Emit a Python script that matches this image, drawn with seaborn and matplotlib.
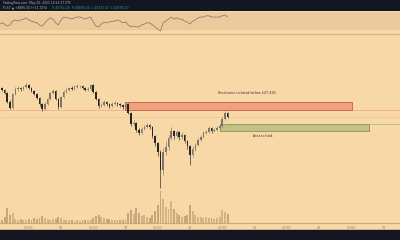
import matplotlib
matplotlib.use("Agg")
import matplotlib.pyplot as plt
import seaborn as sns
import pandas as pd
from matplotlib.patches import Rectangle

# ---------------- data (hourly candles, hours since May 17 00:00 UTC) ----------------
hours = list(range(1, 87))
opens = [45600, 45300, 45000, 44550, 43200, 42300, 44400, 45150, 45300, 45150,
         45450, 45750, 45300, 44850, 44400, 43800, 42900, 42150, 42900, 43650,
         44550, 44850, 43650, 42450, 43950, 44700, 45000, 45300, 45150, 45450,
         45600, 45600, 45300, 45000, 45150, 45750, 44700, 43650, 42600, 42750,
         43200, 42900, 42600, 42900, 43050, 42900, 42750, 42450, 42900, 41550,
         39900, 40050, 39000, 38550, 39150, 39450, 39750, 39450, 38100, 37050,
         35700, 33000, 35700, 36450, 37800, 38850, 38100, 38700, 37950, 38250,
         37350, 36600, 35250, 36150, 36750, 37500, 37950, 38550, 38700, 39300,
         38850, 39000, 39300, 39600, 40650, 41550]
closes = [45300, 45000, 44550, 43200, 42300, 44400, 45150, 45300, 45150, 45450,
          45750, 45300, 44850, 44400, 43800, 42900, 42150, 42900, 43650, 44550,
          44850, 43650, 42450, 43950, 44700, 45000, 45300, 45150, 45450, 45600,
          45600, 45300, 45000, 45150, 45750, 44700, 43650, 42600, 42750, 43200,
          42900, 42600, 42900, 43050, 42900, 42750, 42450, 42900, 41550, 39900,
          40050, 39000, 38550, 39150, 39450, 39750, 39450, 38100, 37050, 35700,
          33000, 35700, 36450, 37800, 38850, 38100, 38700, 37950, 38250, 37350,
          36600, 35250, 36150, 36750, 37500, 37950, 38550, 38700, 39300, 38850,
          39000, 39300, 39600, 40650, 41550, 40950]
highs = [45900, 45450, 45150, 44700, 43500, 44550, 45450, 45600, 45450, 45600,
         46050, 45900, 45450, 45000, 44550, 43950, 43050, 43200, 43800, 44700,
         45150, 45000, 43800, 44100, 45000, 45300, 45450, 45600, 45750, 45900,
         45750, 45750, 45450, 45450, 45900, 45900, 44850, 43800, 43050, 43500,
         43350, 43050, 43200, 43350, 43200, 43050, 42900, 43200, 43050, 41700,
         40500, 40200, 39300, 39450, 39750, 40050, 39900, 39600, 38250, 37200,
         36000, 36300, 37350, 38250, 39450, 39000, 39000, 38850, 38700, 38400,
         37500, 36750, 36600, 37050, 37800, 38250, 38850, 39000, 39600, 39450,
         39300, 39600, 39900, 40950, 41850, 41700]
lows = [45150, 44850, 44400, 43050, 42150, 42150, 44250, 44850, 44850, 45000,
        45300, 45150, 44700, 44250, 43650, 42600, 41850, 42000, 42750, 43500,
        44400, 43500, 42150, 42300, 43800, 44550, 44850, 45000, 45000, 45300,
        45300, 45150, 44850, 44850, 45000, 44550, 43500, 42300, 42450, 42600,
        42600, 42300, 42450, 42750, 42600, 42450, 42150, 42300, 41400, 39600,
        39600, 38700, 38250, 38400, 39000, 39300, 39150, 37800, 36600, 35100,
        30300, 32250, 35250, 36000, 37500, 37650, 37800, 37500, 37650, 37050,
        36150, 33750, 34950, 35850, 36600, 37350, 37800, 38400, 38550, 38550,
        38700, 38850, 39150, 39450, 40500, 40800]
volume = [4, 3, 6, 15, 8, 10, 4, 3, 4, 3,
          3, 4, 3, 5, 4, 5, 7, 5, 4, 3,
          4, 4, 6, 5, 3, 3, 3, 3, 2, 3,
          2, 3, 3, 3, 3, 5, 7, 8, 6, 5,
          4, 4, 3, 3, 3, 3, 3, 4, 10, 13,
          9, 15, 10, 7, 8, 6, 5, 8, 12, 18,
          32, 24, 16, 14, 22, 14, 10, 8, 6, 7,
          8, 18, 12, 8, 6, 6, 5, 6, 5, 5,
          4, 5, 6, 13, 11, 9]
rsi = [42, 45, 42, 37, 40, 49, 52, 49, 52, 54,
       57, 52, 49, 47, 45, 40, 37, 45, 52, 57,
       54, 45, 40, 52, 59, 57, 57, 54, 57, 59,
       59, 57, 54, 57, 59, 47, 37, 35, 42, 47,
       45, 47, 49, 49, 52, 49, 45, 47, 40, 35,
       37, 35, 35, 40, 42, 45, 45, 40, 35, 30,
       25, 45, 49, 54, 59, 54, 57, 54, 54, 49,
       47, 42, 49, 52, 57, 59, 59, 62, 62, 59,
       59, 59, 59, 62, 64, 59]

tick_pos = [12, 24, 36, 48, 60, 72, 84, 96, 108, 120, 132, 144]
tick_labels = ["12:00", "18", "12:00", "19", "12:00", "20",
               "12:00", "21", "12:00", "22", "12:00", "23"]

resistance_zone = (42000, 43200)
hold_zone = (38850, 39900)
last_price = 40950

# ---------------- style ----------------
BG = "#f9d8a8"
DARK = "#131722"
BAND = "#ebcb9d"
sns.set_style("white")
plt.rcParams["font.family"] = ["DejaVu Sans"]

W, H = 400, 240
XL, XR = 1.3, 150.14

fig = plt.figure(figsize=(4, 2.4), dpi=100)
fig.patch.set_facecolor(BG)

def fy(px):
    return 1 - px / H

# dark header / footer bands
fig.add_artist(Rectangle((0, fy(11)), 1, 11 / H, transform=fig.transFigure,
                         color=DARK, zorder=0))
fig.add_artist(Rectangle((0, 0), 1, 10 / H, transform=fig.transFigure,
                         color=DARK, zorder=0))
fig.text(2 / W, fy(3.3), "TradingView.com, May 20, 2021 14:23:27 UTC",
         fontsize=2.2, color="#b2b5be", va="center", ha="left")
fig.text(2 / W, fy(7.6), "75.67 \u25b2 +4895.50 (+11.72%)",
         fontsize=2.2, color="#b2b5be", va="center", ha="left")
fig.text(52 / W, fy(7.6), "O 40761.20  H 40895.50  L 40317.07  C 40576.50",
         fontsize=2.2, color="#26a69a", va="center", ha="left")

# ---------------- RSI panel ----------------
ax_r = fig.add_axes([0, fy(34), 1, 23 / H])
ax_r.set_facecolor(BG)
ax_r.axhspan(30, 70, color=BAND, lw=0, zorder=0)
ax_r.axhline(30, color="#e2c295", lw=0.5, zorder=1)
rsi_df = pd.DataFrame({"t": hours, "rsi": rsi})
sns.lineplot(data=rsi_df, x="t", y="rsi", ax=ax_r, color="#7f7262", lw=0.5,
             zorder=3)
ax_r.set_xlim(XL, XR)
ax_r.set_ylim(17.9, 73.6)
for s in ["top", "left", "right"]:
    ax_r.spines[s].set_visible(False)
ax_r.spines["bottom"].set_color("#d8b78b")
ax_r.spines["bottom"].set_linewidth(0.9)
ax_r.set_xticks([])
ax_r.set_yticks([])
ax_r.set_xlabel("")
ax_r.set_ylabel("")

# ---------------- volume (behind) ----------------
main_rect = [0, fy(223), 1, 188 / H]
ax_v = fig.add_axes(main_rect)
vol_colors = ["#c9a778" if c >= o else "#b8966a" for o, c in zip(opens, closes)]
ax_v.bar(hours, volume, width=0.7, color=vol_colors, alpha=0.75, lw=0)
ax_v.set_xlim(XL, XR)
ax_v.set_ylim(0, 188)
ax_v.axis("off")

# ---------------- price panel ----------------
ax = fig.add_axes(main_rect)
ax.patch.set_alpha(0)
ax.set_xlim(XL, XR)
ax.set_ylim(25050, 53250)

# reference lines
ax.axhline(last_price, color="#e8c59c", lw=0.5, zorder=1)
ax.axhline(resistance_zone[0], color="#f3ae8c", lw=0.6, zorder=1)
ax.hlines(hold_zone[1], 138.6, XR, color="#b5bd7a", lw=0.6, zorder=1)

# zones
ax.add_patch(Rectangle((47.8, resistance_zone[0]), 132.3 - 47.8,
                       resistance_zone[1] - resistance_zone[0],
                       facecolor="#eba47f", edgecolor="#d8654b", lw=0.7, zorder=2))
ax.add_patch(Rectangle((83.2, hold_zone[0]), 138.6 - 83.2,
                       hold_zone[1] - hold_zone[0],
                       facecolor="#c8bd88", edgecolor="#86a55c", lw=0.7, zorder=2))

# candles
for t, o, h, l, c in zip(hours, opens, highs, lows, closes):
    col = "#7e766b" if c >= o else "#262626"
    ax.vlines(t, l, h, color=col, lw=0.45, zorder=4)
    lo, hi = min(o, c), max(o, c)
    ax.add_patch(Rectangle((t - 0.3, lo), 0.6, max(hi - lo, 40),
                           facecolor=col, edgecolor="none", zorder=5))

ax.text(82.5, 42000 + (110 - 93) * 150, "Resistance to break before \\$47-49K.",
        fontsize=2.3, color="#3d3a36", ha="left", va="center", zorder=6)
ax.text(95.5, 42000 + (110 - 136) * 150, "Area to hold.",
        fontsize=2.3, color="#3d3a36", ha="left", va="center", zorder=6)

# axes cosmetics
for s in ["top", "left", "right"]:
    ax.spines[s].set_visible(False)
ax.spines["bottom"].set_color("#c7a87f")
ax.spines["bottom"].set_linewidth(0.8)
ax.set_yticks([])
ax.set_xticks(tick_pos)
ax.set_xticklabels(tick_labels)
ax.tick_params(axis="x", length=1.5, width=0.4, color="#b59d80", pad=0.8,
               labelsize=2.3, labelcolor="#8a7864")

fig.savefig("out.png", dpi=100, facecolor=BG)
